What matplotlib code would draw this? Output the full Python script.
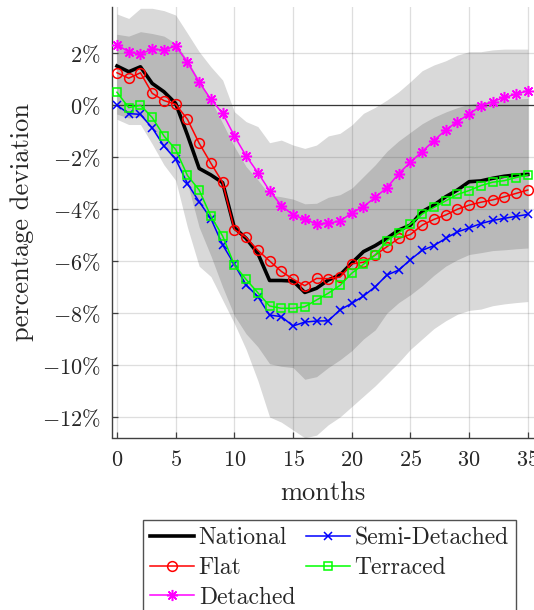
import numpy as np
import matplotlib
matplotlib.use("Agg")
import matplotlib.pyplot as plt

plt.rcParams["font.family"] = ["cmr10", "DejaVu Serif"]
plt.rcParams["mathtext.fontset"] = "cm"
plt.rcParams["axes.unicode_minus"] = False

months = np.arange(36)

national = [1.50, 1.28, 1.47, 0.83, 0.51, 0.06, -1.15, -2.44, -2.69, -2.99,
            -4.72, -5.13, -5.71, -6.75, -6.75, -6.77, -7.21, -7.05, -6.73, -6.54,
            -6.08, -5.64, -5.41, -5.13, -4.81, -4.62, -4.10, -3.85, -3.53, -3.27,
            -2.95, -2.92, -2.82, -2.74, -2.69, -2.67]
flat = [1.24, 1.03, 1.24, 0.45, 0.17, 0.03, -0.55, -1.47, -2.24, -2.98,
        -4.79, -5.09, -5.59, -6.00, -6.40, -6.70, -6.95, -6.67, -6.68, -6.62,
        -6.11, -6.05, -5.77, -5.45, -5.13, -4.98, -4.62, -4.40, -4.23, -4.01,
        -3.85, -3.74, -3.65, -3.53, -3.40, -3.27]
detached = [2.31, 2.05, 1.96, 2.15, 2.12, 2.27, 1.65, 0.88, 0.22, -0.32,
            -1.19, -1.96, -2.60, -3.30, -3.87, -4.23, -4.40, -4.57, -4.54, -4.47,
            -4.15, -3.91, -3.55, -3.18, -2.64, -2.20, -1.79, -1.37, -0.96, -0.64,
            -0.35, -0.04, 0.13, 0.29, 0.42, 0.55]
semi_detached = [-0.01, -0.33, -0.36, -0.88, -1.58, -2.08, -3.02, -3.72, -4.37, -5.38,
                 -6.13, -6.92, -7.37, -8.08, -8.14, -8.50, -8.35, -8.31, -8.30, -7.88,
                 -7.63, -7.35, -6.99, -6.54, -6.35, -5.95, -5.59, -5.41, -5.13, -4.88,
                 -4.73, -4.56, -4.44, -4.36, -4.28, -4.21]
terraced = [0.49, -0.10, -0.01, -0.48, -1.19, -1.71, -2.71, -3.27, -4.28, -5.04,
            -6.15, -6.71, -7.22, -7.73, -7.82, -7.82, -7.76, -7.50, -7.24, -6.94,
            -6.47, -6.13, -5.77, -5.22, -4.91, -4.58, -4.19, -3.94, -3.69, -3.44,
            -3.29, -3.10, -2.97, -2.91, -2.79, -2.69]

# confidence bands (outer and inner)
outer_upper = [3.50, 3.33, 3.72, 3.72, 3.63, 3.46, 2.76, 2.05, 1.47, 0.96,
               -0.26, -0.64, -0.83, -1.45, -1.35, -1.54, -1.67, -1.54, -1.19, -1.09,
               -0.77, -0.32, -0.09, 0.19, 0.51, 0.90, 1.32, 1.54, 1.70, 1.92,
               2.05, 2.05, 2.12, 2.15, 2.15, 2.15]
outer_lower = [-0.55, -0.75, -0.75, -1.50, -2.30, -2.90, -4.70, -6.20, -6.60, -7.50,
               -8.40, -9.40, -10.60, -12.00, -12.20, -12.50, -12.80, -12.70, -12.30, -12.00,
               -11.60, -11.20, -10.80, -10.35, -9.90, -9.40, -9.00, -8.60, -8.30, -8.05,
               -7.90, -7.85, -7.72, -7.65, -7.60, -7.56]
inner_upper = [2.72, 2.65, 2.82, 2.75, 2.65, 2.37, 1.73, 0.96, 0.19, -0.70,
               -1.60, -2.37, -2.88, -3.46, -3.53, -3.62, -3.80, -3.78, -3.55, -3.45,
               -3.20, -2.75, -2.30, -1.78, -1.38, -1.05, -0.72, -0.47, -0.27, -0.10,
               0.03, 0.10, 0.17, 0.20, 0.23, 0.25]
inner_lower = [-0.35, -0.50, -0.45, -0.90, -1.60, -2.20, -3.00, -4.70, -5.80, -7.00,
               -8.10, -8.80, -9.30, -9.95, -10.05, -10.10, -10.55, -10.45, -10.10, -9.80,
               -9.45, -9.00, -8.65, -8.00, -7.60, -7.30, -6.95, -6.55, -6.20, -5.95,
               -5.75, -5.68, -5.60, -5.57, -5.53, -5.50]

xticks = [0, 5, 10, 15, 20, 25, 30, 35]
yticks = [-12, -10, -8, -6, -4, -2, 0, 2]

fig = plt.figure(figsize=(5.34, 6.10), dpi=100)
ax = fig.add_axes([111.7 / 534, 1 - 437.5 / 610, 422.0 / 534, 430.5 / 610])

ax.fill_between(months, outer_lower, outer_upper, color="#d9d9d9", lw=0, zorder=1)
ax.fill_between(months, inner_lower, inner_upper, color="#b9b9b9", lw=0, zorder=1.1)
ax.axhline(0, color="#3a3a3a", lw=0.9, zorder=1.5)

h_nat, = ax.plot(months, national, color="black", lw=2.6, zorder=3, label="National")
h_flat, = ax.plot(months, flat, color="red", lw=1.1, marker="o", ms=7,
                  mfc="none", mew=1.1, zorder=3, label="Flat")
h_det, = ax.plot(months, detached, color="magenta", lw=1.1, marker=(8, 2, 0), ms=8,
                 mew=1.1, zorder=3, label="Detached")
h_semi, = ax.plot(months, semi_detached, color="blue", lw=1.1, marker="x", ms=5.5,
                  mew=1.1, zorder=3, label="Semi-Detached")
h_ter, = ax.plot(months, terraced, color="#00ff00", lw=1.1, marker="s", ms=5.5,
                 mfc="none", mew=1.1, zorder=3, label="Terraced")

ax.set_xlim(-0.45, 35.5)
ax.set_ylim(-12.79, 3.77)
ax.set_xticks(xticks)
ax.set_xticklabels([f"${t}$" for t in xticks])
ax.set_yticks(yticks)
ax.set_yticklabels([f"${t}\\%$" for t in yticks])

ax.set_axisbelow(False)
ax.grid(True, color="#262626", alpha=0.15, lw=0.9)
for s in ("top", "right"):
    ax.spines[s].set_visible(False)
for s in ("left", "bottom"):
    ax.spines[s].set_color("#404040")
    ax.spines[s].set_linewidth(1.0)
ax.tick_params(direction="in", length=4, width=0.9, color="#404040",
               labelsize=16, labelcolor="#262626")
ax.tick_params(axis="x", pad=9)
ax.tick_params(axis="y", pad=8)

ax.set_xlabel("months", fontsize=19, color="#262626", labelpad=8)
ax.set_ylabel("percentage deviation", fontsize=19, color="#262626", labelpad=6)

leg = fig.legend([h_nat, h_flat, h_det, h_semi, h_ter],
                 ["National", "Flat", "Detached", "Semi-Detached", "Terraced"],
                 ncol=2, loc="upper left", bbox_to_anchor=(143 / 534, 1 - 520 / 610),
                 fontsize=17, frameon=True, fancybox=False, edgecolor="#262626",
                 handlelength=1.86, handletextpad=0.2, columnspacing=0.45,
                 labelspacing=0.32, borderpad=0.3, borderaxespad=0.0)
leg.get_frame().set_linewidth(1.0)
for t in leg.get_texts():
    t.set_color("#262626")

fig.savefig("out.png", dpi=100)
